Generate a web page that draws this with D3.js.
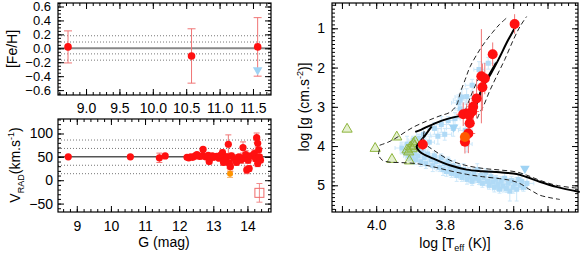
<!DOCTYPE html>
<html>
<head>
<meta charset="utf-8">
<script src="https://cdn.jsdelivr.net/npm/d3@7"></script>
<style>
body { margin: 0; background: #fff; }
svg text { font-family: "Liberation Sans", Arial, sans-serif; fill: #000; }
</style>
</head>
<body>
<svg id="chart" width="581" height="253"></svg>
<script>
// [Fe/H] panel: G, [Fe/H], error
const fehPoints = [[8.73, 0.02, 0.23], [10.58, -0.11, 0.39], [11.57, 0.02, 0.42]];
const fehUpper = [[11.57, -0.31]];
const fehMean = 0.0;
const fehBands = [0.18, 0.09, -0.08, -0.17];
const fehTicks = [9.0, 9.5, 10.0, 10.5, 11.0, 11.5];

// radial velocity panel: G, Vrad, error
const vradPoints = [
  [8.75, 50, 2], [10.57, 50, 2], [11.42, 48, 10], [11.59, 52, 3], [12.23, 49, 3],
  [12.28, 48, 3], [12.34, 50, 3], [12.4, 49, 3], [12.47, 52, 3], [12.52, 55, 4],
  [12.6, 51, 3], [12.68, 52, 4], [12.7, 66, 4], [12.78, 50, 3], [12.85, 53, 3],
  [12.88, 40, 5], [12.92, 48, 4], [12.97, 52, 3], [13.02, 49, 3], [13.1, 51, 4],
  [13.17, 47, 5], [13.22, 54, 4], [13.27, 59, 6], [13.3, 38, 6], [13.35, 45, 5],
  [13.4, 50, 6], [13.44, 77, 20], [13.47, 36, 10], [13.5, 29, 10], [13.53, 52, 6],
  [13.6, 47, 8], [13.68, 38, 6], [13.75, 50, 5], [13.82, 44, 8], [13.87, 70, 12],
  [13.9, 47, 6], [13.95, 55, 8], [13.98, 22, 8], [14.02, 43, 7], [14.05, 25, 6],
  [14.1, 52, 5], [14.2, 57, 8], [14.24, 46, 6], [14.27, 91, 10], [14.3, 79, 8],
  [14.33, 65, 6], [14.3, 36, 7], [14.35, 50, 5], [14.38, 43, 5]
];
const vradOrange = [[13.49, 14, 8]];
const vradSquare = [[14.35, -27, 20]];
const vradMean = 50;
const vradBands = [86, 68, 32, 14];

// Kiel diagram: log Teff, log g, errors
const redStars = [
  [3.596, 0.89, 0.01, 0.25], [3.66, 1.66, 0.01, 0.3], [3.693, 2.22, 0.015, 1.2],
  [3.683, 2.28, 0.015, 0.4], [3.69, 2.5, 0.01, 0.6], [3.707, 2.79, 0.015, 0.5],
  [3.717, 3.0, 0.01, 0.4], [3.72, 3.12, 0.02, 0.3], [3.736, 3.17, 0.015, 0.25],
  [3.746, 3.19, 0.02, 0.3], [3.728, 3.2, 0.01, 0.35], [3.727, 3.42, 0.015, 0.4],
  [3.731, 3.68, 0.02, 0.5], [3.741, 3.89, 0.015, 0.3], [3.864, 3.96, 0.01, 0.15]
];
const orangeStars = [[3.741, 3.77, 0.015, 0.2]];
const blueStars = [
  [3.925, 4.05, .02, .15], [3.915, 4.15, .015, .1], [3.91, 3.95, .02, .2], [3.905, 4.25, .015, .12],
  [3.9, 4.1, .01, .1], [3.895, 4.3, .02, .15], [3.892, 3.85, .015, .1], [3.888, 4.2, .01, .1],
  [3.885, 4.35, .02, .12], [3.88, 4.0, .01, .1], [3.878, 4.25, .015, .15], [3.875, 3.8, .02, .1],
  [3.87, 4.4, .02, .12], [3.866, 4.12, .01, .1], [3.862, 3.7, .02, .15], [3.86, 4.3, .015, .1],
  [3.855, 4.45, .01, .12], [3.85, 4.2, .02, .1], [3.845, 3.9, .015, .15], [3.84, 4.35, .01, .1],
  [3.835, 4.5, .02, .15], [3.83, 4.25, .015, .1], [3.825, 4.4, .01, .12], [3.82, 3.75, .02, .2],
  [3.815, 4.55, .015, .1], [3.81, 4.3, .01, .1], [3.805, 4.6, .02, .15], [3.8, 4.45, .015, .1],
  [3.795, 4.65, .01, .12], [3.79, 4.38, .02, .1], [3.785, 4.55, .015, .15], [3.78, 4.7, .01, .1],
  [3.775, 4.5, .02, .12], [3.77, 4.62, .015, .1], [3.765, 4.75, .01, .15], [3.76, 4.55, .02, .1],
  [3.755, 4.68, .015, .12], [3.75, 4.8, .01, .1], [3.745, 4.6, .02, .15], [3.74, 4.72, .015, .1],
  [3.735, 4.85, .01, .12], [3.73, 4.65, .02, .1], [3.725, 4.78, .015, .15], [3.72, 4.9, .01, .1],
  [3.715, 4.7, .02, .12], [3.71, 4.82, .015, .1], [3.705, 4.6, .01, .15], [3.7, 4.88, .02, .1],
  [3.695, 4.75, .015, .12], [3.69, 4.95, .01, .1], [3.685, 4.8, .02, .15], [3.68, 4.68, .015, .1],
  [3.675, 4.9, .01, .12], [3.67, 5.0, .02, .1], [3.665, 4.78, .015, .15], [3.66, 4.92, .01, .1],
  [3.655, 5.05, .02, .12], [3.65, 4.85, .015, .1], [3.645, 4.98, .01, .15], [3.64, 5.1, .02, .1],
  [3.635, 4.9, .015, .12], [3.63, 5.02, .01, .1], [3.625, 4.82, .02, .15], [3.62, 5.08, .015, .1],
  [3.615, 4.95, .01, .12], [3.61, 5.15, .02, .25], [3.605, 4.88, .015, .1], [3.6, 5.05, .01, .15],
  [3.595, 4.95, .02, .1], [3.59, 5.1, .015, .3], [3.585, 4.85, .01, .12], [3.58, 5.0, .02, .1],
  [3.575, 4.9, .015, .2], [3.57, 5.05, .01, .1], [3.56, 4.95, .02, .15],
  [3.83, 3.55, .02, .15], [3.81, 3.45, .015, .2], [3.8, 3.7, .02, .15], [3.79, 3.35, .015, .1],
  [3.775, 3.55, .02, .2], [3.77, 3.3, .015, .15], [3.76, 2.9, .02, .2], [3.755, 3.05, .015, .15],
  [3.75, 2.75, .02, .2], [3.74, 3.6, .02, .15], [3.735, 3.95, .015, .2], [3.72, 2.45, .02, .15],
  [3.7, 2.05, .015, .2], [3.673, 1.89, .02, .15], [3.736, 2.74, .015, .2], [3.755, 2.83, .02, .15]
];
const blueUpper = [[3.774, 3.52], [3.566, 4.57]];
const greenStars = [
  [4.085, 3.57], [4.003, 4.06], [3.94, 3.77], [3.954, 4.34], [3.903, 4.38],
  [3.91, 4.1], [3.9, 4.02], [3.891, 3.93], [3.886, 3.89], [3.895, 4.07], [3.905, 4.15], [3.888, 4.0]
];

// isochrone (solid) and its envelopes (dashed)
const isoMain = [[3.406, 5.17], [3.474, 5.04], [3.523, 4.91], [3.561, 4.79], [3.59, 4.71], [3.639, 4.67],
  [3.69, 4.64], [3.736, 4.6], [3.785, 4.49], [3.833, 4.32], [3.872, 4.15], [3.882, 4.02],
  [3.872, 3.89], [3.855, 3.7], [3.838, 3.5]];
const isoGiant = [[3.886, 3.64], [3.868, 3.58], [3.852, 3.51], [3.83, 3.43], [3.804, 3.34], [3.765, 3.25],
  [3.731, 3.21], [3.717, 3.13], [3.707, 2.91], [3.688, 2.49], [3.665, 2.15], [3.644, 1.81],
  [3.615, 1.3], [3.585, 0.83]];
const isoClump = [[3.712, 3.05], [3.7, 2.75], [3.685, 2.4], [3.668, 2.15], [3.65, 1.88]];
const envUpper = [[3.99, 3.98], [3.965, 3.9], [3.945, 3.81], [3.915, 3.64], [3.89, 3.51], [3.865, 3.41],
  [3.843, 3.33], [3.814, 3.23], [3.785, 3.14], [3.765, 2.95], [3.755, 2.65], [3.74, 2.3],
  [3.726, 1.98], [3.692, 1.47], [3.66, 1.1], [3.64, 0.9], [3.62, 0.74]];
const envLower = [[3.99, 4.08], [3.993, 4.22], [3.982, 4.36], [3.96, 4.41], [3.93, 4.42], [3.88, 4.45],
  [3.833, 4.53], [3.785, 4.63], [3.736, 4.72], [3.69, 4.78], [3.639, 4.83], [3.61, 4.87],
  [3.59, 4.92], [3.575, 4.98], [3.561, 5.06], [3.54, 5.17], [3.523, 5.25], [3.49, 5.32], [3.464, 5.36]];
const envMS = [[3.86, 3.62], [3.862, 3.8], [3.852, 3.98], [3.833, 4.1], [3.785, 4.36], [3.735, 4.5],
  [3.688, 4.57], [3.639, 4.61], [3.59, 4.66], [3.561, 4.74], [3.523, 4.87], [3.474, 5.0], [3.406, 5.08]];
const envRGB = [[3.705, 3.3], [3.695, 3.1], [3.688, 3.0], [3.67, 2.62], [3.649, 2.23], [3.625, 1.8],
  [3.6, 1.3], [3.58, 0.95], [3.561, 0.7]];
const envRGB2 = [[3.74, 3.1], [3.725, 2.75], [3.705, 2.35], [3.69, 2.1]];

const red = '#ff1010', pink = '#f07575', blue = '#b0daf6', paleBlue = '#cde8fa', green = '#8db43c';

const svg = d3.select('#chart');

function stepsIn(scale, step) {
  const [a, b] = d3.extent(scale.domain());
  const out = [];
  for (let v = Math.ceil(a / step - 1e-9) * step; v <= b + 1e-9; v += step) out.push(+v.toFixed(6));
  return out;
}

// IDL style box: inward ticks on all four sides
function box(x, y, o) {
  const [x0, x1] = d3.extent(x.range());
  const [yt, yb] = d3.extent(y.range());
  const g = svg.append('g');
  const sides = [
    [d3.axisBottom, x, `translate(0,${yb})`, o.xMajor, o.xMinor, o.xFmt, o.xPad, 'x'],
    [d3.axisTop, x, `translate(0,${yt})`, o.xMajor, o.xMinor, null, 0, 'x'],
    [d3.axisLeft, y, `translate(${x0},0)`, o.yMajor, o.yMinor, o.yFmt, o.yPad, 'y'],
    [d3.axisRight, y, `translate(${x1},0)`, o.yMajor, o.yMinor, null, 0, 'y']
  ];
  sides.forEach(([axis, s, tr, maj, min, fmt, pad, k]) => {
    g.append('g').attr('transform', tr)
      .call(axis(s).tickValues(stepsIn(s, min)).tickSize(-3).tickFormat(''));
    const a = g.append('g').attr('transform', tr)
      .call(axis(s).tickValues(stepsIn(s, maj)).tickSize(-6).tickPadding(pad)
        .tickFormat(fmt ? fmt : () => ''));
    a.selectAll('.tick text').style('font-size', (k === 'y' && o.yFont) ? o.yFont : '14px');
  });
  g.selectAll('.domain').remove();
  g.selectAll('.tick line').attr('stroke', '#000');
  g.selectAll('.tick text').filter(function () { return this.textContent === ''; }).remove();
  g.append('rect')
    .attr('x', x0).attr('y', yt).attr('width', x1 - x0).attr('height', yb - yt)
    .attr('fill', 'none').attr('stroke', '#000').attr('stroke-width', 1.2);
}

function errBars(g, data, x, y, color, cap) {
  g.selectAll(null).data(data).join('line')
    .attr('x1', d => x(d[0])).attr('x2', d => x(d[0]))
    .attr('y1', d => y(d[1] - d[2])).attr('y2', d => y(d[1] + d[2]))
    .attr('stroke', color).attr('stroke-width', 1);
  [-1, 1].forEach(sgn => {
    g.selectAll(null).data(data).join('line')
      .attr('x1', d => x(d[0]) - cap).attr('x2', d => x(d[0]) + cap)
      .attr('y1', d => y(d[1] + sgn * d[2])).attr('y2', d => y(d[1] + sgn * d[2]))
      .attr('stroke', color).attr('stroke-width', 1);
  });
}

function hLines(g, vals, x, y, dash, color, w) {
  const [a, b] = x.domain();
  g.selectAll(null).data(vals).join('line')
    .attr('x1', x(a)).attr('x2', x(b))
    .attr('y1', d => y(d)).attr('y2', d => y(d))
    .attr('stroke', color).attr('stroke-width', w)
    .attr('stroke-dasharray', dash);
}

// ---------- [Fe/H] panel ----------
const x1s = d3.scaleLinear().domain([8.58, 11.77]).range([58, 271]);
const y1s = d3.scaleLinear().domain([-0.67, 0.65]).range([95, 3]);
const p1 = svg.append('g');
hLines(p1, fehBands, x1s, y1s, '1,2', '#777', 1);
hLines(p1, [fehMean], x1s, y1s, null, '#888', 2);
errBars(p1, fehPoints, x1s, y1s, pink, 4);
p1.selectAll(null).data(fehUpper).join('path')
  .attr('d', d3.symbol(d3.symbolTriangle, 40))
  .attr('transform', d => `translate(${x1s(d[0])},${y1s(d[1])}) rotate(180)`)
  .attr('fill', '#9fd3f4');
p1.selectAll(null).data(fehPoints).join('circle')
  .attr('cx', d => x1s(d[0])).attr('cy', d => y1s(d[1])).attr('r', 3.8).attr('fill', red);
box(x1s, y1s, {
  xMajor: 0.5, xMinor: 0.1, xFmt: d => fehTicks.includes(d) ? d3.format('.1f')(d) : '', xPad: 8,
  yMajor: 0.2, yMinor: 0.05, yFmt: d3.format('.1f'), yPad: 7, yFont: '13px'
});

// ---------- Vrad panel ----------
const x2s = d3.scaleLinear().domain([8.45, 14.69]).range([58, 271]);
const y2s = d3.scaleLinear().domain([-68, 131]).range([212, 119]);
const p2 = svg.append('g');
hLines(p2, vradBands, x2s, y2s, '1,2', '#777', 1);
hLines(p2, [vradMean], x2s, y2s, null, '#555', 1.5);
errBars(p2, vradPoints, x2s, y2s, pink, 3);
errBars(p2, vradOrange, x2s, y2s, '#f7b36a', 3);
errBars(p2, vradSquare, x2s, y2s, '#f08a8a', 3);
p2.selectAll(null).data(vradSquare).join('rect')
  .attr('x', d => x2s(d[0]) - 4.5).attr('y', d => y2s(d[1]) - 4.5)
  .attr('width', 9).attr('height', 9)
  .attr('fill', 'none').attr('stroke', '#f06a6a').attr('stroke-width', 1);
p2.selectAll(null).data(vradPoints).join('circle')
  .attr('cx', d => x2s(d[0])).attr('cy', d => y2s(d[1])).attr('r', 3.6).attr('fill', red);
p2.selectAll(null).data(vradOrange).join('circle')
  .attr('cx', d => x2s(d[0])).attr('cy', d => y2s(d[1])).attr('r', 3).attr('fill', '#ff9500');
box(x2s, y2s, {
  xMajor: 1, xMinor: 0.2, xFmt: d3.format('d'), xPad: 9,
  yMajor: 50, yMinor: 10, yFmt: d3.format('d'), yPad: 5
});

// ---------- Kiel diagram ----------
const x3s = d3.scaleLinear().domain([4.129, 3.411]).range([332, 578]);
const y3s = d3.scaleLinear().domain([0.355, 5.68]).range([3, 212]);
const plot3 = svg.append('g');

// blue stars with error crosses
blueStars.forEach(d => {
  const cx = x3s(d[0]), cy = y3s(d[1]);
  const xa = x3s(d[0] + d[2]), xb = x3s(d[0] - d[2]);
  const ya = y3s(d[1] - d[3]), yb = y3s(d[1] + d[3]);
  plot3.append('path')
    .attr('d', `M${xa},${cy}H${xb}M${cx},${ya}V${yb}M${xa},${cy - 2}V${cy + 2}M${xb},${cy - 2}V${cy + 2}` +
      `M${cx - 2},${ya}H${cx + 2}M${cx - 2},${yb}H${cx + 2}`)
    .attr('stroke', paleBlue).attr('stroke-width', 1).attr('fill', 'none');
});
plot3.selectAll(null).data(blueStars).join('rect')
  .attr('x', d => x3s(d[0]) - 2.5).attr('y', d => y3s(d[1]) - 2.5)
  .attr('width', 5).attr('height', 5).attr('fill', blue);
plot3.selectAll(null).data(blueUpper).join('path')
  .attr('d', d3.symbol(d3.symbolTriangle, 40))
  .attr('transform', d => `translate(${x3s(d[0])},${y3s(d[1])}) rotate(180)`)
  .attr('fill', '#9fd3f4');

// green triangles
plot3.selectAll(null).data(greenStars).join('path')
  .attr('d', d3.symbol(d3.symbolTriangle, 45))
  .attr('transform', d => `translate(${x3s(d[0])},${y3s(d[1])})`)
  .attr('fill', 'rgba(170,205,100,0.3)').attr('stroke', green).attr('stroke-width', 1);

const line3 = d3.line().x(d => x3s(d[0])).y(d => y3s(d[1])).curve(d3.curveCatmullRom);
[envUpper, envLower, envMS, envRGB, envRGB2].forEach(c => {
  plot3.append('path').datum(c).attr('d', line3)
    .attr('fill', 'none').attr('stroke', '#222').attr('stroke-width', 1)
    .attr('stroke-dasharray', '5,3');
});
[isoMain, isoGiant, isoClump].forEach(c => {
  plot3.append('path').datum(c).attr('d', line3)
    .attr('fill', 'none').attr('stroke', '#000').attr('stroke-width', 2);
});

// red giants with error crosses
const redAll = redStars.concat(orangeStars);
plot3.selectAll(null).data(redAll).join('path')
  .attr('d', d => `M${x3s(d[0] + d[2])},${y3s(d[1])}H${x3s(d[0] - d[2])}` +
    `M${x3s(d[0])},${y3s(d[1] - d[3])}V${y3s(d[1] + d[3])}`)
  .attr('stroke', pink).attr('stroke-width', 1).attr('fill', 'none');
plot3.selectAll(null).data(redStars).join('circle')
  .attr('cx', d => x3s(d[0])).attr('cy', d => y3s(d[1])).attr('r', 5).attr('fill', red);
plot3.selectAll(null).data(orangeStars).join('circle')
  .attr('cx', d => x3s(d[0])).attr('cy', d => y3s(d[1])).attr('r', 5).attr('fill', '#ff5a00');

box(x3s, y3s, {
  xMajor: 0.1, xMinor: 0.02, xFmt: d => Math.abs(Math.round(d * 10) % 2) === 0 ? d3.format('.1f')(d) : '', xPad: 8,
  yMajor: 1, yMinor: 0.1, yFmt: d3.format('d'), yPad: 7
});

// ---------- axis titles ----------
svg.append('text').attr('transform', 'translate(17,49) rotate(-90)')
  .attr('text-anchor', 'middle').style('font-size', '14px').text('[Fe/H]');

const vt = svg.append('text').attr('transform', 'translate(20,165) rotate(-90)')
  .attr('text-anchor', 'middle').style('font-size', '14px');
vt.append('tspan').text('V');
vt.append('tspan').attr('dy', 4).style('font-size', '9px').text('RAD');
vt.append('tspan').attr('dy', -4).text('(km.s');
vt.append('tspan').attr('dy', -6).style('font-size', '9px').text('-1');
vt.append('tspan').attr('dy', 6).text(')');

svg.append('text').attr('x', 164).attr('y', 247)
  .attr('text-anchor', 'middle').style('font-size', '14px').text('G (mag)');

const gt = svg.append('text').attr('transform', 'translate(309,107) rotate(-90)')
  .attr('text-anchor', 'middle').style('font-size', '14px');
gt.append('tspan').text('log [g (cm.s');
gt.append('tspan').attr('dy', -6).style('font-size', '9px').text('-2');
gt.append('tspan').attr('dy', 6).text(')]');

const tt = svg.append('text').attr('x', 455).attr('y', 248)
  .attr('text-anchor', 'middle').style('font-size', '14px');
tt.append('tspan').text('log [T');
tt.append('tspan').attr('dy', 3).style('font-size', '9px').text('eff');
tt.append('tspan').attr('dy', -3).text(' (K)]');
</script>
</body>
</html>
